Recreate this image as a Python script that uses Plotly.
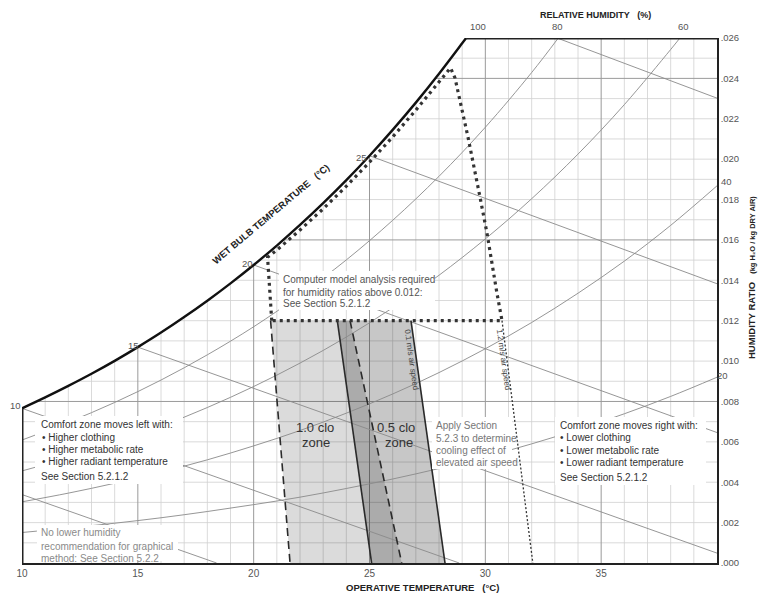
import plotly.graph_objects as go

# ---------------- data ----------------
# saturation (100 % RH) curve: dry bulb (C) / humidity ratio (kg/kg)
sat_T = [10, 11, 12, 13, 14, 15, 16, 17, 18, 19, 20, 21, 22, 23, 24, 25, 26, 27, 28, 29, 29.17]
sat_w = [0.00766, 0.00820, 0.00877, 0.00937, 0.01001, 0.01069, 0.01141, 0.01218, 0.01299, 0.01385,
         0.01476, 0.01572, 0.01674, 0.01782, 0.01896, 0.02017, 0.02145, 0.02280, 0.02423, 0.02574, 0.02600]

# relative humidity curves
rh80_T = [10, 12, 14, 16, 18, 20, 22, 24, 26, 28, 30, 32, 33.15]
rh80_w = [0.00609, 0.00697, 0.00795, 0.00906, 0.01031, 0.01170, 0.01327, 0.01501, 0.01697, 0.01915,
          0.02158, 0.02429, 0.02600]
rh60_T = [10, 12, 14, 16, 18, 20, 22, 24, 26, 28, 30, 32, 34, 36, 38, 38.4]
rh60_w = [0.00456, 0.00521, 0.00595, 0.00677, 0.00770, 0.00874, 0.00990, 0.01119, 0.01264, 0.01425,
          0.01605, 0.01804, 0.02025, 0.02270, 0.02543, 0.02600]
rh40_T = [10, 12, 14, 16, 18, 20, 22, 24, 26, 28, 30, 32, 34, 36, 38, 40]
rh40_w = [0.00303, 0.00346, 0.00395, 0.00450, 0.00511, 0.00580, 0.00656, 0.00742, 0.00837, 0.00943,
          0.01061, 0.01191, 0.01336, 0.01495, 0.01672, 0.01868]
rh20_T = [10, 12, 14, 16, 18, 20, 22, 24, 26, 28, 30, 32, 34, 36, 38, 40]
rh20_w = [0.00151, 0.00173, 0.00197, 0.00224, 0.00255, 0.00289, 0.00326, 0.00369, 0.00416, 0.00468,
          0.00526, 0.00590, 0.00661, 0.00739, 0.00825, 0.00920]

# wet bulb lines (start / end points)
wb_start_T = [10, 10, 15, 20, 25, 33.1]
wb_start_w = [0.00339, 0.00766, 0.01069, 0.01476, 0.02017, 0.02600]
wb_end_T = [18.4, 28.87, 40, 40, 40, 40]
wb_end_w = [0.0, 0.0, 0.00049, 0.00646, 0.01383, 0.02302]

# comfort zones: boundary temperatures at top (w = 0.012) and bottom (w = 0)
zone_top_w = 0.012
clo10_top = [20.73, 24.16]
clo10_bot = [21.57, 26.39]
clo05_top = [23.61, 26.79]
clo05_bot = [25.09, 28.26]

# 1.2 m/s air speed line
v12_T = [30.72, 32.05]
v12_w = [0.012, 0.0]

# upper (computer model) dotted limit
lim_T = [20.78, 20.6, 21, 22, 23, 24, 25, 26, 27, 28, 28.5, 28.69, 29.25, 29.77, 30.07, 30.50, 30.72, 20.78]
lim_w = [0.012, 0.01514, 0.01550, 0.01649, 0.01754, 0.01866, 0.01985, 0.02110, 0.02243, 0.02383,
         0.02452, 0.02402, 0.02110, 0.01812, 0.01634, 0.01337, 0.012, 0.012]

# tick labels
x_ticks = [10, 15, 20, 25, 30, 35]
x_ticktext = ["10", "15", "20", "25", "30", "35"]
y_ticks = [0.000, 0.002, 0.004, 0.006, 0.008, 0.010, 0.012, 0.014, 0.016, 0.018, 0.020, 0.022, 0.024, 0.026]
y_ticktext = [".000", ".002", ".004", ".006", ".008", ".010", ".012", ".014", ".016", ".018", ".020",
              ".022", ".024", ".026"]

# ---------------- geometry helpers (pixel -> data / paper, for text placement) ----------------
W, H = 763, 598
L, R, T_, B = 22, 717, 38, 563


def X(px):
    return 10 + (px - L) * 30 / (R - L)


def Y(py):
    return (B - py) * 0.026 / (B - T_)


def PX(px):
    return (px - L) / (R - L)


def PY(py):
    return (B - py) / (B - T_)


FONT = "Liberation Sans, Arial, Helvetica, sans-serif"
fig = go.Figure()

# grid
minor_x, minor_y, major_x, major_y = [], [], [], []
for t in range(11, 40):
    tgt = (major_x, major_y) if t % 5 == 0 else (minor_x, minor_y)
    tgt[0].extend([t, t, None])
    tgt[1].extend([0, 0.026, None])
for k in range(1, 26):
    w = k * 0.001
    tgt = (major_x, major_y) if k % 8 == 0 else (minor_x, minor_y)
    tgt[0].extend([10, 40, None])
    tgt[1].extend([w, w, None])
fig.add_trace(go.Scatter(x=minor_x, y=minor_y, mode="lines", line=dict(color="#d0d0d0", width=0.8),
                         hoverinfo="skip"))
fig.add_trace(go.Scatter(x=major_x, y=major_y, mode="lines", line=dict(color="#9a9a9a", width=1),
                         hoverinfo="skip"))

# white mask above saturation
fig.add_trace(go.Scatter(x=sat_T + [sat_T[-1], sat_T[0]], y=sat_w + [0.0262, 0.0262],
                         mode="lines", fill="toself", fillcolor="white", line=dict(width=0),
                         hoverinfo="skip"))

# comfort zones
fig.add_trace(go.Scatter(x=[clo10_top[0], clo10_top[1], clo10_bot[1], clo10_bot[0], clo10_top[0]],
                         y=[zone_top_w, zone_top_w, 0, 0, zone_top_w], mode="lines", fill="toself",
                         fillcolor="rgba(0,0,0,0.14)", line=dict(width=0), hoverinfo="skip"))
fig.add_trace(go.Scatter(x=[clo05_top[0], clo05_top[1], clo05_bot[1], clo05_bot[0], clo05_top[0]],
                         y=[zone_top_w, zone_top_w, 0, 0, zone_top_w], mode="lines", fill="toself",
                         fillcolor="rgba(0,0,0,0.22)", line=dict(width=0), hoverinfo="skip"))

# RH curves
for tt, ww in [(rh80_T, rh80_w), (rh60_T, rh60_w), (rh40_T, rh40_w), (rh20_T, rh20_w)]:
    fig.add_trace(go.Scatter(x=tt, y=ww, mode="lines", line=dict(color="#8a8a8a", width=0.9, shape="spline"),
                             hoverinfo="skip"))

# wet bulb lines
for a, b, c, d in zip(wb_start_T, wb_start_w, wb_end_T, wb_end_w):
    fig.add_trace(go.Scatter(x=[a, c], y=[b, d], mode="lines", line=dict(color="#8a8a8a", width=0.9),
                             hoverinfo="skip"))

# zone boundaries
for top, bot in [(clo10_top[0], clo10_bot[0]), (clo10_top[1], clo10_bot[1])]:
    fig.add_trace(go.Scatter(x=[top, bot], y=[zone_top_w, 0], mode="lines",
                             line=dict(color="#2a2a2a", width=1.6, dash="8px,5px"), hoverinfo="skip"))
for top, bot in [(clo05_top[0], clo05_bot[0]), (clo05_top[1], clo05_bot[1])]:
    fig.add_trace(go.Scatter(x=[top, bot], y=[zone_top_w, 0], mode="lines",
                             line=dict(color="#2a2a2a", width=1.6), hoverinfo="skip"))

# 1.2 m/s line
fig.add_trace(go.Scatter(x=v12_T, y=v12_w, mode="lines",
                         line=dict(color="#333", width=1.3, dash="2px,2px"), hoverinfo="skip"))

# dotted limit
fig.add_trace(go.Scatter(x=lim_T, y=lim_w, mode="lines",
                         line=dict(color="#333", width=3.2, dash="3px,4px"), hoverinfo="skip"))

# saturation curve
fig.add_trace(go.Scatter(x=sat_T, y=sat_w, mode="lines", line=dict(color="#111", width=2.4, shape="spline"),
                         hoverinfo="skip"))

# partial borders (left and top)
fig.add_trace(go.Scatter(x=[10, 10], y=[sat_w[0], 0], mode="lines", line=dict(color="#222", width=3),
                         hoverinfo="skip"))
fig.add_trace(go.Scatter(x=[sat_T[-1], 40], y=[0.026, 0.026], mode="lines", line=dict(color="#222", width=3),
                         hoverinfo="skip"))

# ---------------- text ----------------
shapes = []
ann = []


def box(x0, y0, x1, y1):
    shapes.append(dict(type="rect", xref="x", yref="y", x0=X(x0), x1=X(x1), y0=Y(y1), y1=Y(y0),
                       fillcolor="white", line=dict(width=0), layer="above"))


def txt(s, px, py, size=10, color="#333", xa="left", ya="middle", angle=0, bold=False):
    if bold:
        s = "<b>" + s + "</b>"
    ann.append(dict(text=s, x=PX(px), y=PY(py), xref="paper", yref="paper", showarrow=False, xanchor=xa,
                    yanchor=ya, textangle=angle, font=dict(family=FONT, size=size, color=color)))


# left block
box(35, 416, 183, 484)
txt("Comfort zone moves left with:", 39, 424)
txt("\u2022 Higher clothing", 40, 437)
txt("\u2022 Higher metabolic rate", 40, 449)
txt("\u2022 Higher radiant temperature", 40, 461)
txt("See Section 5.2.1.2", 39, 476)

# no lower humidity
box(37, 525, 178, 561)
txt("No lower humidity", 39, 532, color="#8a8a8a")
txt("recommendation for graphical", 39, 546, color="#8a8a8a")
txt("method: See Section 5.2.2", 39, 558, color="#8a8a8a")

# apply section
box(432, 417, 512, 469)
txt("Apply Section", 434, 425, color="#777")
txt("5.2.3 to determine", 434, 438, color="#777")
txt("cooling effect of", 434, 450, color="#777")
txt("elevated air speed", 434, 462, color="#777")

# right block
box(555, 417, 706, 485)
txt("Comfort zone moves right with:", 558, 425)
txt("\u2022 Lower clothing", 558, 437)
txt("\u2022 Lower metabolic rate", 558, 450)
txt("\u2022 Lower radiant temperature", 558, 462)
txt("See Section 5.2.1.2", 558, 477)

# computer model
box(279, 271, 435, 310)
txt("Computer model analysis required", 281, 279, color="#555")
txt("for humidity ratios above 0.012:", 281, 292, color="#555")
txt("See Section 5.2.1.2", 281, 303, color="#555")

# zone labels
txt("1.0 clo", 315, 427, size=13, xa="center")
txt("zone", 316, 442, size=13, xa="center")
txt("0.5 clo", 396, 427, size=13, xa="center")
txt("zone", 399, 442, size=13, xa="center")

# air speed labels
txt("0.1 m/s air speed", 412, 360, size=8, color="#444", xa="center", angle=82)
txt("1.2 m/s air speed", 504, 360, size=8, color="#444", xa="center", angle=82)

# RH labels
txt("100", 478, 27, size=9.5, color="#555", xa="center")
txt("80", 557, 27, size=9.5, color="#555", xa="center")
txt("60", 683, 27, size=9.5, color="#555", xa="center")
txt("40", 727, 182, size=9.5, color="#555", xa="center")
txt("20", 722, 375, size=9.5, color="#555", xa="center")
txt("RELATIVE HUMIDITY\u00a0\u00a0\u00a0(%)", 595, 15, size=9, color="#222", xa="center", bold=True)

# wet bulb labels
txt("10", 15, 405, size=9.5, color="#555", xa="center")
txt("15", 133, 345, size=9.5, color="#555", xa="center")
txt("20", 247, 263, size=9.5, color="#555", xa="center")
txt("25", 361, 157, size=9.5, color="#555", xa="center")
txt("WET BULB TEMPERATURE\u00a0\u00a0\u00a0(\u00b0C)", 270, 214, size=9.5, color="#222", xa="center",
    angle=-40, bold=True)

# axis titles
txt("OPERATIVE TEMPERATURE\u00a0\u00a0\u00a0(\u00b0C)", 422, 587, size=9.5, color="#222", xa="center", bold=True)
txt("<b>HUMIDITY RATIO\u00a0\u00a0\u00a0<span style='font-size:7.5px'>(kg H\u2082O / kg DRY AIR)</span></b>",
    751, 278, size=9.5, color="#222", xa="center", angle=-90)

fig.update_layout(
    width=W, height=H, margin=dict(l=L, r=W - R, t=T_, b=H - B),
    paper_bgcolor="white", plot_bgcolor="white", showlegend=False,
    shapes=shapes, annotations=ann,
    xaxis=dict(range=[10, 40], showgrid=False, zeroline=False, showline=True, linecolor="#222", linewidth=1.5,
               tickvals=x_ticks, ticktext=x_ticktext, ticks="",
               tickfont=dict(family=FONT, size=10, color="#555")),
    yaxis=dict(range=[0, 0.026], side="right", showgrid=False, zeroline=False, showline=True,
               linecolor="#222", linewidth=1.5, tickvals=y_ticks, ticktext=y_ticktext, ticks="",
               tickfont=dict(family=FONT, size=9.5, color="#555")),
)

fig.write_html("out.html")
